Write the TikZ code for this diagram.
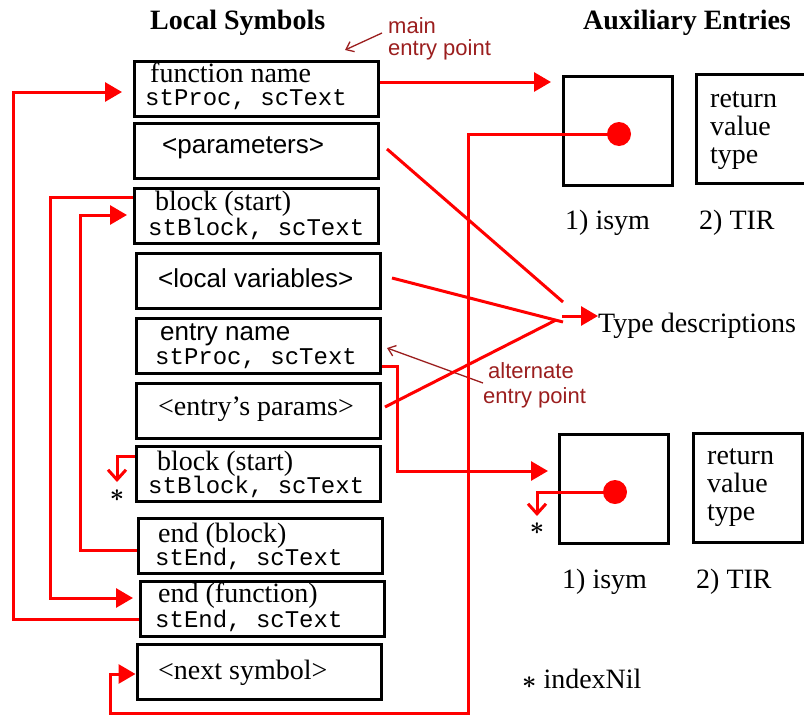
\documentclass[tikz,border=0pt]{standalone}
\usepackage{fontspec}
\setmainfont{Liberation Serif}
\newfontfamily\sansf{Liberation Sans}
\newfontfamily\monof{Liberation Mono}
\usetikzlibrary{arrows.meta}
\definecolor{annot}{RGB}{155,30,30}
\begin{document}
\begin{tikzpicture}[x=1pt,y=-1pt,
 box/.style={draw,line width=3pt,inner sep=0pt,minimum width=244pt,minimum height=55pt},
 sq/.style={draw,line width=3pt,inner sep=0pt,minimum width=109pt,minimum height=109pt},
 ser/.style={inner sep=0pt,anchor=base west,font=\fontsize{28}{30}\selectfont},
 san/.style={inner sep=0pt,anchor=base west,font=\sansf\fontsize{26}{30}\selectfont},
 mon/.style={inner sep=0pt,anchor=base west,font=\monof\fontsize{24}{28}\selectfont},
 hdr/.style={inner sep=0pt,anchor=base west,font=\bfseries\fontsize{28}{30}\selectfont},
 ann/.style={inner sep=0pt,anchor=base west,text=annot,font=\sansf\fontsize{22}{24}\selectfont},
 star/.style={inner sep=0pt,anchor=center,font=\boldmath\fontsize{32}{34}\selectfont},
 rl/.style={draw=red,line width=3pt},
 tri/.style={rl,-{Triangle[length=17pt,width=19pt]}},
 barb/.style={rl,-{Straight Barb[length=10pt,width=18pt]}},
 annarr/.style={draw=annot,line width=1.3pt,-{Straight Barb[length=7pt,width=11pt]}},
 dot/.style={circle,fill=red,inner sep=0pt,minimum size=24pt}]
\useasboundingbox (0,0) rectangle (804,718);
% headers
\node[hdr] (h1) at (150,29) {Local Symbols};
\node[hdr] (h2) at (583,29) {Auxiliary Entries};
% local symbol boxes
\node[box] (b1) at (256,88.5) {};
\node[box] (b2) at (256,151) {};
\node[box] (b3) at (256.5,216) {};
\node[box] (b4) at (258,280.5) {};
\node[box] (b5) at (258,345.5) {};
\node[box] (b6) at (258,410.5) {};
\node[box] (b7) at (258,474) {};
\node[box] (b8) at (260.5,545.5) {};
\node[box] (b9) at (262,609) {};
\node[box] (b10) at (259,671.5) {};
% texts
\node[ser] (t1) at (150,82) {function name};
\node[mon] (t1b) at (145,105) {stProc, scText};
\node[san] (t2) at (162,153) {<parameters>};
\node[ser] (t3) at (155,210) {block (start)};
\node[mon] (t3b) at (148,235) {stBlock, scText};
\node[san] (t4) at (158,287) {<local variables>};
\node[san] (t5) at (160,340) {entry name};
\node[mon] (t5b) at (155,364) {stProc, scText};
\node[ser] (t6) at (158,415) {<entry's params>};
\node[ser] (t7) at (157,470) {block (start)};
\node[mon] (t7b) at (148,493) {stBlock, scText};
\node[ser] (t8) at (158,542) {end (block)};
\node[mon] (t8b) at (155,565) {stEnd, scText};
\node[ser] (t9) at (158,602) {end (function)};
\node[mon] (t9b) at (155,627) {stEnd, scText};
\node[ser] (t10) at (158,679) {<next symbol>};
% auxiliary entries
\node[sq] (i1) at (618,131) {};
\node[sq] (r1) at (751,129) {};
\node[ser] (r1a) at (710,107) {return};
\node[ser] (r1b) at (710,135) {value};
\node[ser] (r1c) at (710,163) {type};
\node[ser] (l1) at (565,229) {1) isym};
\node[ser] (l2) at (699,229) {2) TIR};
\node[sq] (i2) at (614,488.5) {};
\node[sq] (r2) at (748,488) {};
\node[ser] (r2a) at (707,464) {return};
\node[ser] (r2b) at (707,492) {value};
\node[ser] (r2c) at (707,520) {type};
\node[ser] (l3) at (562,588) {1) isym};
\node[ser] (l4) at (696,588) {2) TIR};
\node[dot] (d1) at (619,134) {};
\node[dot] (d2) at (615,492) {};
\node[ser] (td) at (598,332) {Type descriptions};
\node[ser] (nil) at (522,688) {{\boldmath$\ast$} indexNil};
\node[star] (s1) at (117,496) {$\ast$};
\node[star] (s2) at (537,529) {$\ast$};
% annotations
\node[ann] (m1) at (388,33) {main};
\node[ann] (m2) at (388,55) {entry point};
\node[ann] (a1) at (488,378) {alternate};
\node[ann] (a2) at (483,403) {entry point};
\coordinate (mtip) at (345,50);
\coordinate (atip) at (387,348);
\draw[annarr] (m1.west |- 0,33) ++(-6,0) -- (mtip);
\draw[annarr] (a2.west |- 0,383) -- (atip);
% red connectors
\coordinate (A1) at (551,82);
\draw[tri] (b1.east |- A1) -- (A1);
\draw[tri] (b9.west |- 0,619) -| (13,92) -- (122,92);
\draw[tri] (b3.west |- 0,197) -| (50,598) -- (133,598);
\draw[tri] (b8.west |- 0,550) -| (80,215) -- (127,215);
\draw[barb] (b7.west |- 0,456) -| (117,482);
\draw[tri] (d1.center) -| (468,713) -| (110,674) -- (b10.west |- 0,674);
\draw[tri] (b5.east |- 0,366) -| (397,471) -- (548,471);
\draw[barb] (d2.center) -| (537,516);
\coordinate (tdj) at (562,316);
\draw[rl] (387,149) -- (563,302);
\draw[rl] (392,278) -- (563,322);
\draw[rl] (385,407) -- (556,320);
\draw[tri] (tdj) -- (td.west |- 0,316);
\end{tikzpicture}
\end{document}
